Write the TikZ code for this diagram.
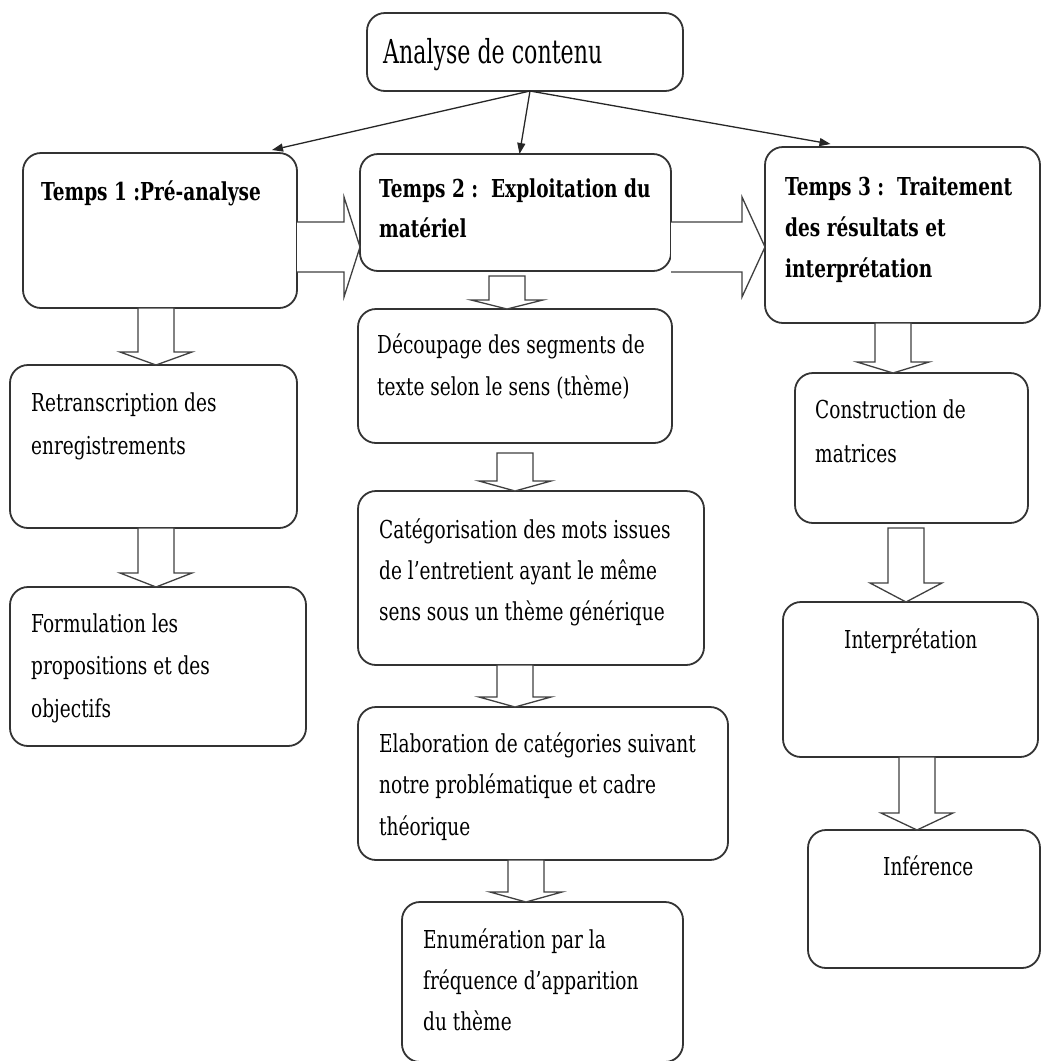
\documentclass[tikz,border=0pt]{standalone}
\usepackage{fontspec}
\setmainfont{DejaVu Serif}[FakeStretch=0.75]
\newfontfamily\titlefont{DejaVu Serif}[FakeStretch=0.67]
\usetikzlibrary{arrows.meta,calc}
\tikzset{
  box/.style={draw=black!80, line width=1.8pt, rounded corners=18pt, fill=white, inner sep=0pt, outer sep=0pt},
  txt/.style={inner sep=0pt, anchor=base west, text=black, font=\fontsize{24.7}{42}\selectfont},
  blk/.style={draw=black!75, line width=1.3pt, fill=white, line join=miter},
  thinarrow/.style={draw=black!85, line width=1.3pt, -{Triangle[length=11pt,width=8pt]}}
}
% box from (x1,y1) to (x2,y2) in pixel units
\newcommand\boxat[5]{\node[box, anchor=north west, minimum width={(#4-#2)*1pt}, minimum height={(#5-#3)*1pt}] (#1) at (#2,#3) {};}
% vertical block arrow: x, from node, to node, gap below source, head length
\newcommand\vblk[5]{\draw[blk] let \p1=(#2.south), \p2=(#3.north) in
  ({#1pt-18pt},{\y1-#4pt}) -- ({#1pt-18pt},{\y2+#5pt}) -- ({#1pt-36pt},{\y2+#5pt}) -- ({#1pt},{\y2}) --
  ({#1pt+36pt},{\y2+#5pt}) -- ({#1pt+18pt},{\y2+#5pt}) -- ({#1pt+18pt},{\y1-#4pt}) -- cycle;}
% horizontal block arrow: from node, to node, y centre (pixel), head length
\newcommand\hblk[4]{\draw[blk] let \p1=(#1.east), \p2=(#2.west) in
  ({\x1},{-#3pt+25pt}) -- ({\x2-#4pt},{-#3pt+25pt}) -- ({\x2-#4pt},{-#3pt+50pt}) -- ({\x2},{-#3pt}) --
  ({\x2-#4pt},{-#3pt-50pt}) -- ({\x2-#4pt},{-#3pt-25pt}) -- ({\x1},{-#3pt-25pt});}
\begin{document}
\begin{tikzpicture}[x=1pt,y=-1pt]
\useasboundingbox[fill=white] (0,0) rectangle (1043,1061);

% boxes
\boxat{top}{367}{13}{683}{91}
\boxat{t1}{23}{153}{297}{308}
\boxat{t2}{360}{154}{671}{271}
\boxat{t3}{765}{147}{1040}{323}
\boxat{r1}{10}{365}{297}{528}
\boxat{r2}{10}{587}{306}{746}
\boxat{m1}{358}{309}{672}{443}
\boxat{m2}{358}{491}{704}{665}
\boxat{m3}{358}{707}{728}{860}
\boxat{m4}{402}{902}{683}{1062}
\boxat{c1}{795}{373}{1028}{523}
\boxat{c2}{783}{602}{1038}{757}
\boxat{c3}{808}{830}{1040}{968}

% texts
\node[inner sep=0pt, anchor=base west, font=\titlefont\fontsize{33}{40}\selectfont] (topt) at (383,63) {Analyse de contenu};
\node[txt, font=\bfseries\fontsize{24.7}{42}\selectfont] (t1t) at (41,200) {Temps 1 :Pré-analyse};
\node[txt, font=\bfseries\fontsize{24.7}{42}\selectfont] (t2t) at (379,197) {\vtop{\baselineskip=40pt\hbox{Temps 2 :\ \ Exploitation du}\hbox{matériel}}};
\node[txt, font=\bfseries\fontsize{24.7}{42}\selectfont] (t3t) at (785,195) {\vtop{\baselineskip=41pt\hbox{Temps 3 :\ \ Traitement}\hbox{des résultats et}\hbox{interprétation}}};
\node[txt] (r1t) at (31,411) {\vtop{\baselineskip=43pt\hbox{Retranscription des}\hbox{enregistrements}}};
\node[txt] (r2t) at (31,632) {\vtop{\baselineskip=42.5pt\hbox{Formulation les}\hbox{propositions et des}\hbox{objectifs}}};
\node[txt] (m1t) at (377,353) {\vtop{\baselineskip=42pt\hbox{Découpage des segments de}\hbox{texte selon le sens (thème)}}};
\node[txt] (m2t) at (379,538) {\vtop{\baselineskip=41pt\hbox{Catégorisation des mots issues}\hbox{de l’entretient ayant le même}\hbox{sens sous un thème générique}}};
\node[txt] (m3t) at (379,752) {\vtop{\baselineskip=41.5pt\hbox{Elaboration de catégories suivant}\hbox{notre problématique et cadre}\hbox{théorique}}};
\node[txt] (m4t) at (423,948) {\vtop{\baselineskip=41pt\hbox{Enumération par la}\hbox{fréquence d’apparition}\hbox{du thème}}};
\node[txt] (c1t) at (815,418) {\vtop{\baselineskip=44pt\hbox{Construction de}\hbox{matrices}}};
\node[txt] (c2t) at (844,648) {Interprétation};
\node[txt] (c3t) at (883,875) {Inférence};

% thin arrows from the top box
\draw[thinarrow] ([xshift=5pt]top.south) -- ($(t1.north east)+(-25,-3)$);
\draw[thinarrow] ([xshift=5pt]top.south) -- ($(t2.north)+(4,0)$);
\draw[thinarrow] ([xshift=5pt]top.south) -- ($(t3.north)+(-72,-3)$);

% horizontal block arrows
\hblk{t1}{t2}{247}{16}
\hblk{t2}{t3}{247}{23}

% vertical block arrows
\vblk{156}{t1}{r1}{0}{13}
\vblk{156}{r1}{r2}{0}{14}
\vblk{507}{t2}{m1}{5}{9}
\vblk{515}{m1}{m2}{10}{10}
\vblk{515}{m2}{m3}{0}{10}
\vblk{526}{m3}{m4}{0}{10}
\vblk{893}{t3}{c1}{0}{11}
\vblk{906}{c1}{c2}{5}{19}
\vblk{917}{c2}{c3}{0}{17}
\end{tikzpicture}
\end{document}
